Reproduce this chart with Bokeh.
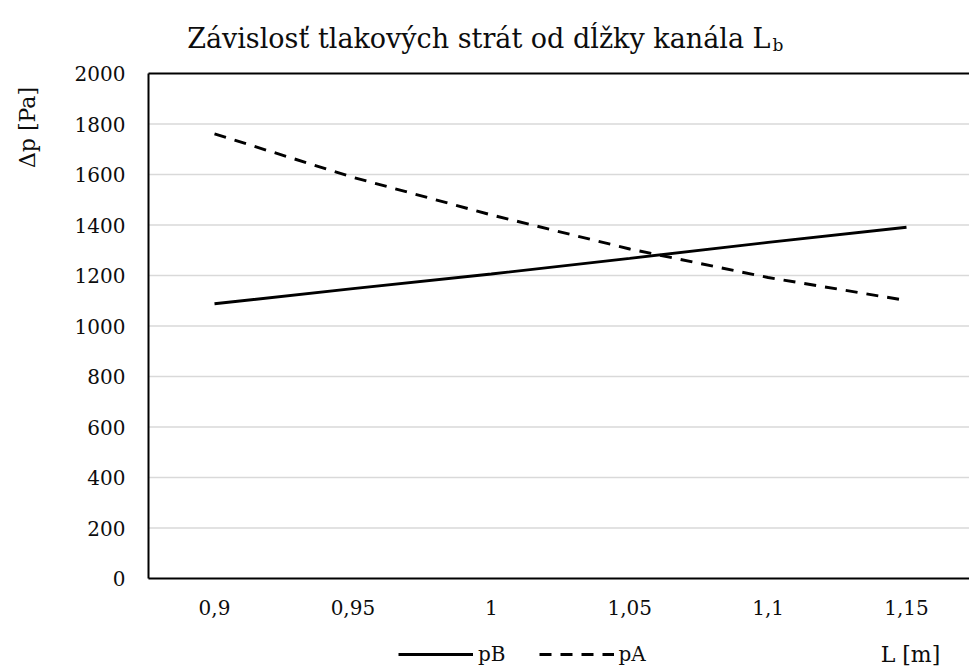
from bokeh.plotting import figure
from bokeh.models import (Range1d, FixedTicker, Label, Legend, LegendItem)
from bokeh.embed import file_html
from bokeh.resources import INLINE

# ---- data ----
L_values = [0.9, 0.95, 1.0, 1.05, 1.1, 1.15]
x_tick_labels = ["0,9", "0,95", "1", "1,05", "1,1", "1,15"]
pB = [1088, 1148, 1206, 1268, 1331, 1391]
pA = [1761, 1589, 1440, 1305, 1192, 1101]
y_ticks = [0, 200, 400, 600, 800, 1000, 1200, 1400, 1600, 1800, 2000]

title_main = "Závislosť tlakových strát od dĺžky kanála L"
title_sub = "b"
y_label = "Δp [Pa]"
x_label = "L [m]"

FONT = "DejaVu Serif"
TXT = "#0d0d0d"

# plot-area extent (data units) and full canvas ranges
X_AX0, X_AX1 = 0.87616, 1.17276
Y_AX0, Y_AX1 = 0, 2000

p = figure(width=969, height=666, output_backend="svg", toolbar_location=None,
           x_range=Range1d(0.822688, 1.17276), y_range=Range1d(-348.51, 2289.11),
           min_border_left=0, min_border_top=0, min_border_bottom=0,
           min_border_right=0)
p.outline_line_color = None
p.background_fill_color = "white"
p.border_fill_color = "white"
p.xgrid.visible = False
p.ygrid.visible = False

# gridlines (horizontal, from the value axis to the right edge)
p.segment(x0=X_AX0, x1=X_AX1, y0=y_ticks[1:-1], y1=y_ticks[1:-1],
          line_color="#d9d9d9", line_width=1.3)
p.segment(x0=X_AX0, x1=X_AX1, y0=y_ticks[-1:], y1=y_ticks[-1:],
          line_color="black", line_width=2)

# axes
p.xaxis.fixed_location = Y_AX0
p.yaxis.fixed_location = X_AX0
p.xaxis.bounds = (X_AX0, X_AX1)
p.yaxis.bounds = (Y_AX0, Y_AX1)
p.xaxis.ticker = FixedTicker(ticks=L_values)
p.xaxis.major_label_overrides = {v: t for v, t in zip(L_values, x_tick_labels)}
p.yaxis.ticker = FixedTicker(ticks=y_ticks)
for ax in (p.xaxis, p.yaxis):
    ax.axis_line_color = "black"
    ax.axis_line_width = 2
    ax.major_tick_line_color = None
    ax.minor_tick_line_color = None
    ax.major_label_text_font = FONT
    ax.major_label_text_font_size = "20px"
    ax.major_label_text_color = TXT
p.yaxis.major_label_standoff = 17
p.xaxis.major_label_standoff = 15

r_b = p.line(L_values, pB, line_color="black", line_width=2.9)
r_a = p.line(L_values, pA, line_color="black", line_width=2.9, line_dash="12 9")

legend = Legend(items=[LegendItem(label="pB", renderers=[r_b]),
                       LegendItem(label="pA", renderers=[r_a])],
                orientation="horizontal", location=(398, 0),
                glyph_width=75, glyph_height=20, label_height=20,
                label_standoff=5, spacing=33, padding=0, margin=0,
                border_line_color=None, background_fill_alpha=0,
                label_text_font=FONT, label_text_font_size="20px",
                label_text_color=TXT)
p.add_layout(legend, "center")

# title (with subscript)
p.add_layout(Label(x=770, y=628, x_units="screen", y_units="screen",
                   text=title_main, text_align="right", text_baseline="alphabetic",
                   text_font=FONT, text_font_size="27px", text_color=TXT))
p.add_layout(Label(x=772, y=622, x_units="screen", y_units="screen",
                   text=title_sub, text_align="left", text_baseline="alphabetic",
                   text_font=FONT, text_font_size="17px", text_color=TXT))

# axis titles
p.add_layout(Label(x=27, y=539, x_units="screen", y_units="screen",
                   text=y_label, angle=1.5708, text_align="center",
                   text_baseline="middle", text_font=FONT,
                   text_font_size="22px", text_color=TXT))
p.add_layout(Label(x=910, y=12, x_units="screen", y_units="screen",
                   text=x_label, text_align="center", text_baseline="middle",
                   text_font=FONT, text_font_size="22px", text_color=TXT))

open("out.html", "w").write(file_html(p, INLINE))
